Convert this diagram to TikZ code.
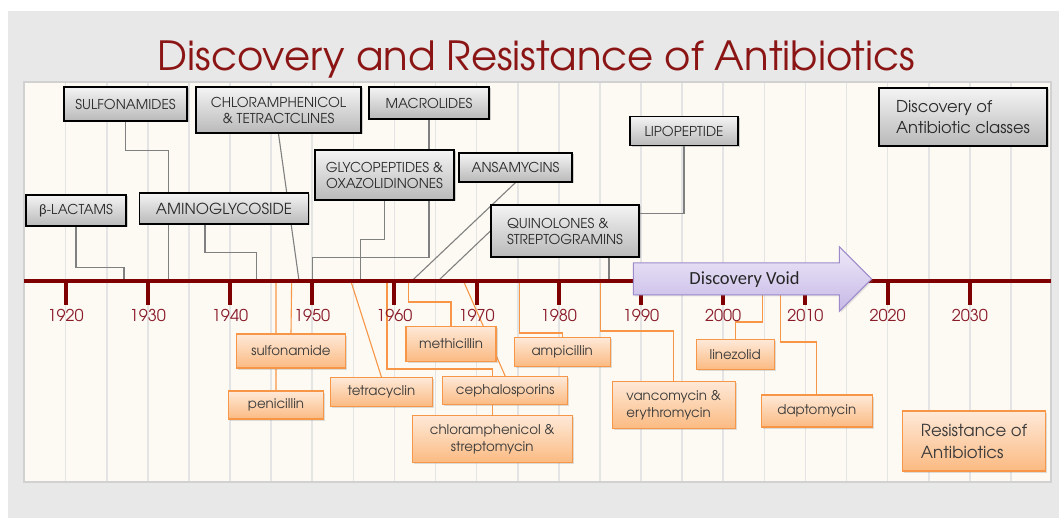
\documentclass[tikz,border=0pt]{standalone}
\usepackage{fontspec}
\setmainfont{TeX Gyre Adventor}
\newfontfamily\voidfont{Carlito}
\newfontfamily\grkfont{Lato}
\usetikzlibrary{shadows}

\definecolor{pageGray}{HTML}{E8E8E8}
\definecolor{panelFill}{HTML}{FDFAF3}
\definecolor{gridGray}{HTML}{E4E4E4}
\definecolor{axisRed}{HTML}{7F0000}
\definecolor{yearRed}{HTML}{8A1C2A}
\definecolor{titleRed}{HTML}{8B1515}
\definecolor{discTop}{HTML}{F4F4F4}
\definecolor{discBot}{HTML}{B9B9B9}
\definecolor{discText}{HTML}{2B2B2B}
\definecolor{discLine}{HTML}{808080}
\definecolor{resTop}{HTML}{FEE9D8}
\definecolor{resBot}{HTML}{FBBA82}
\definecolor{resLine}{HTML}{F79646}
\definecolor{resText}{HTML}{3A3A3A}
\definecolor{voidTop}{HTML}{EEE9F8}
\definecolor{voidBot}{HTML}{C6B8E6}
\definecolor{voidLine}{HTML}{9C8ACB}

\pgfdeclarelayer{bg}
\pgfdeclarelayer{lines}
\pgfsetlayers{bg,lines,main}

\begin{document}
\begin{tikzpicture}[x=1pt,y=-1pt,
    wh/.style 2 args={minimum width=#1pt, minimum height=#2pt},
    disc/.style={draw=black, line width=1.2pt, top color=discTop, bottom color=discBot,
      drop shadow={shadow xshift=1.5pt, shadow yshift=-1.5pt, opacity=.35},
      font=\fontsize{13.6}{16}\selectfont, text=discText, align=center, inner sep=0pt},
    res/.style={draw=resLine, line width=1.2pt, top color=resTop, bottom color=resBot,
      drop shadow={shadow xshift=1.5pt, shadow yshift=-1.5pt, opacity=.25},
      font=\fontsize{13.4}{17}\selectfont, text=resText, align=center, inner sep=0pt},
    discline/.style={draw=discLine, line width=1.1pt},
    resline/.style={draw=resLine, line width=1.1pt},
    yearlbl/.style={text=yearRed, font=\fontsize{16.3}{16}\selectfont}]

  % page and panel
  \useasboundingbox (0,0) rectangle (1059,518);
  \begin{pgfonlayer}{bg}
  \fill[pageGray] (8,11) rectangle (1059,518);
  \node[text=titleRed, font=\fontsize{40.2}{42}\selectfont, anchor=base] (title) at (536.5,71)
    {Discovery and Resistance of Antibiotics};
  \filldraw[fill=panelFill, draw=black!18, line width=1.5pt] (24,82) rectangle (1051,482);
  \foreach \y in {1920,1925,...,2035}
    \draw[gridGray, line width=1.6pt] ({65.6+8.22*(\y-1920)},83) -- ({65.6+8.22*(\y-1920)},481);
  \end{pgfonlayer}

  % points on the time line
  \foreach \n/\y in {d1927/1927.1, d1932/1932.5, d1943/1943.2, d1948/1948.4, d1950/1950.0,
      d1956/1955.9, d1962/1962.1, d1965/1965.3, d1986/1986.1,
      r1945/1945.6, r1947/1947.5, r1955/1954.7, r1959/1959.1, r1962/1961.7,
      r1968/1968.4, r1975/1975.2, r1985/1985.1, r2005/2004.8, r2007/2007.0}
    \coordinate (\n) at ({65.6+8.22*(\y-1920)},281);

  % discovery of classes
  \node[disc, wh={123}{34}] (sulf) at (125.5,104) {SULFONAMIDES};
  \node[disc, wh={165}{46}] (chlor) at (278.5,110) {CHLORAMPHENICOL\\\& TETRACTCLINES};
  \node[disc, wh={120}{32}] (macro) at (429,103) {MACROLIDES};
  \node[disc, wh={108}{29}] (lipo) at (684,131) {LIPOPEPTIDE};
  \node[disc, wh={139}{50}] (glyco) at (384.5,175) {GLYCOPEPTIDES \&\\OXAZOLIDINONES};
  \node[disc, wh={113}{29}] (ansa) at (515.5,167.5) {ANSAMYCINS};
  \node[disc, wh={148}{52}, align=left] (quino) at (565,231) {QUINOLONES \&\\STREPTOGRAMINS};
  \node[disc, wh={100}{31}] (blact) at (76,210.5) {{\grkfont β}-LACTAMS};
  \node[disc, wh={169}{31}, font=\fontsize{15.2}{17}\selectfont] (amino) at (224,208.5) {AMINOGLYCOSIDE};
  \node[disc, wh={168}{58}, align=left, font=\fontsize{16.3}{21}\selectfont] (disckey) at (963,117)
    {Discovery of\\Antibiotic classes};

  % resistance
  \node[res, wh={109}{34}] (sulfa) at (291,351) {sulfonamide};
  \node[res, wh={95}{28}] (peni) at (276,405) {penicillin};
  \node[res, wh={102}{29}] (tetra) at (381.4,392) {tetracyclin};
  \node[res, wh={90}{35}] (meth) at (451,343.7) {methicillin};
  \node[res, wh={125}{28}] (ceph) at (505.2,390.7) {cephalosporins};
  \node[res, wh={160}{47}] (chlst) at (492.2,439) {chloramphenicol \&\\streptomycin};
  \node[res, wh={96}{29}] (ampi) at (562.2,352) {ampicillin};
  \node[res, wh={123}{47}, align=left] (vanco) at (673.7,405) {vancomycin \&\\erythromycin};
  \node[res, wh={78}{30}] (linez) at (735.2,354.6) {linezolid};
  \node[res, wh={111}{32}] (dapto) at (816.8,411) {daptomycin};
  \node[res, wh={143}{60}, align=left, font=\fontsize{16.6}{22}\selectfont] (reskey) at (974,441)
    {Resistance of\\Antibiotics};

  % connectors, behind the boxes
  \begin{pgfonlayer}{lines}
  \draw[discline] (blact.south) -- ++(0,41) -| (d1927);
  \draw[discline] (sulf.south) -- ++(0,29) -| (d1932);
  \draw[discline] ([xshift=-19pt]amino.south) -- ++(0,28) -| (d1943);
  \draw[discline] (chlor.south) -- (d1948);
  \draw[discline] (glyco.south) -- ++(0,39) -| (d1956);
  \draw[discline] (macro.south) -- ++(0,138) -| (d1950);
  \draw[discline] (ansa.south) -- (d1962);
  \draw[discline] (quino.west) -- (d1965);
  \draw[discline] (lipo.south) -- ++(0,67) -| (d1986);
  \draw[resline] (r1945) -- (peni.north);
  \draw[resline] (r1947) -- (sulfa.north);
  \draw[resline] (r1955) -- (tetra.north);
  \draw[resline] (r1959) -- ++(0,88) -| (chlst.north);
  \draw[resline] (r1962) -- ++(0,21) -| (meth.north);
  \draw[resline] (r1968) -- (ceph.north);
  \draw[resline] (r1975) -- ++(0,52) -| (ampi.north);
  \draw[resline] (r1985) -- ++(0,50) -| (vanco.north);
  \draw[resline] (r2005) -- ++(0,41) -| (linez.north);
  \draw[resline] (r2007) -- ++(0,61) -| (dapto.north);

  % time line
  \draw[axisRed, line width=3.6pt] (24,281) -- (1051,281);
  \foreach \y in {1920,1930,...,2030} {
    \draw[axisRed, line width=4pt] ({65.6+8.22*(\y-1920)},281) -- ({65.6+8.22*(\y-1920)},305);
    \node[yearlbl] (y\y) at ({65.6+8.22*(\y-1920)},315) {\y};
  }
  \end{pgfonlayer}

  % discovery void
  \draw[voidLine, line width=1pt, top color=voidTop, bottom color=voidBot,
    drop shadow={shadow xshift=1.5pt, shadow yshift=-1.5pt, opacity=.2}]
    (633.3,263) -- (839.3,263) -- (839.3,246.7) -- (871.7,279) -- (839.3,311.3)
    -- (839.3,295) -- (633.3,295) -- cycle;
  \node[font=\voidfont\fontsize{18.5}{18.5}\selectfont, text=black!85] (void) at (744.5,280) {Discovery Void};
\end{tikzpicture}
\end{document}
